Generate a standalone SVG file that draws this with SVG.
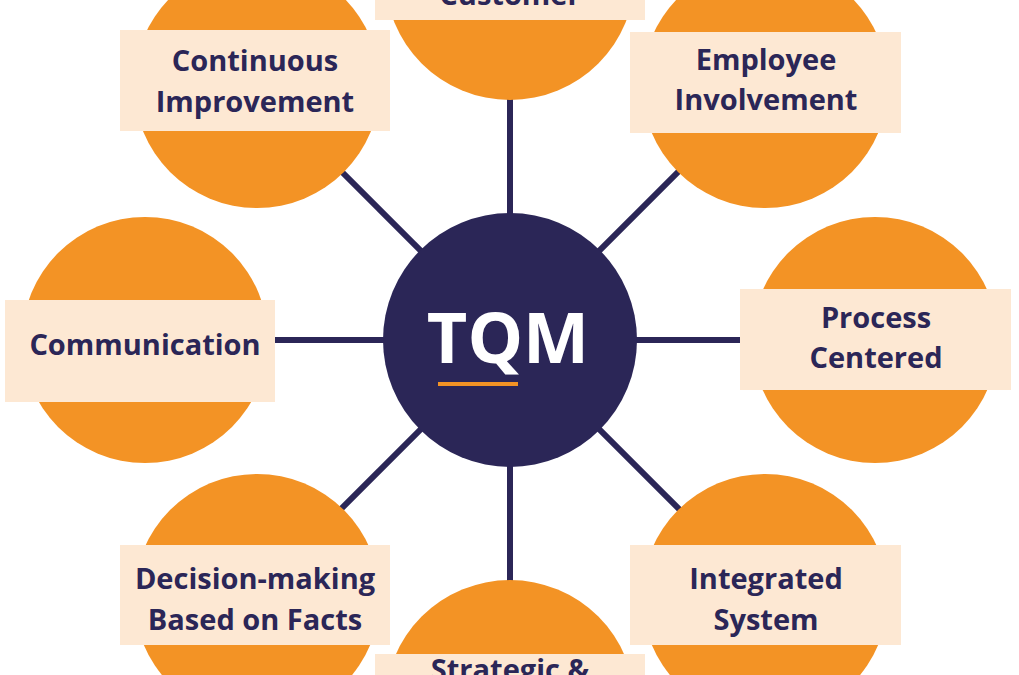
<svg xmlns="http://www.w3.org/2000/svg" width="1019" height="675" viewBox="0 0 1019 675">
<style>
.c{fill:#f39325}
.r{fill:#fde8d3}
.t{font-family:"Open Sans","Liberation Sans",sans-serif;font-weight:bold;font-size:29px;fill:#2b2657;text-anchor:middle}
.l{stroke:#2b2657;stroke-width:6}
</style>
<rect width="1019" height="675" fill="#fff"/>
<g id="connectors">
<line class="l" x1="510" y1="340" x2="510" y2="0"/>
<line class="l" x1="510" y1="340" x2="510" y2="675"/>
<line class="l" x1="510" y1="340" x2="145" y2="340"/>
<line class="l" x1="510" y1="340" x2="875" y2="340"/>
<line class="l" x1="510" y1="340" x2="257" y2="87"/>
<line class="l" x1="510" y1="340" x2="763" y2="87"/>
<line class="l" x1="510" y1="340" x2="257" y2="593"/>
<line class="l" x1="510" y1="340" x2="763" y2="593"/>
</g>
<g id="customer"><circle class="c" cx="510" cy="-25" r="125"/><rect class="r" x="375" y="-30" width="270" height="50"/><text class="t" x="510" y="5">Customer</text></g>
<g id="employee"><circle class="c" cx="765" cy="85" r="123"/><rect class="r" x="630" y="32" width="271" height="101"/><text class="t" x="766" y="70">Employee</text><text class="t" x="766" y="110">Involvement</text></g>
<g id="process"><circle class="c" cx="875" cy="340" r="123"/><rect class="r" x="740" y="289" width="271" height="101"/><text class="t" x="876" y="328">Process</text><text class="t" x="876" y="368">Centered</text></g>
<g id="integrated"><circle class="c" cx="765" cy="597" r="123"/><rect class="r" x="630" y="545" width="271" height="100"/><text class="t" x="766" y="589">Integrated</text><text class="t" x="766" y="630">System</text></g>
<g id="strategic"><circle class="c" cx="510" cy="705" r="125"/><rect class="r" x="375" y="654" width="270" height="50"/><text class="t" x="510" y="680">Strategic &amp;</text></g>
<g id="decision"><circle class="c" cx="257" cy="597" r="123"/><rect class="r" x="120" y="545" width="270" height="100"/><text class="t" x="255" y="589">Decision-making</text><text class="t" x="255" y="630">Based on Facts</text></g>
<g id="communication"><circle class="c" cx="145" cy="340" r="123"/><rect class="r" x="5" y="300" width="270" height="102"/><text class="t" x="145" y="355">Communication</text></g>
<g id="continuous"><circle class="c" cx="257" cy="85" r="123"/><rect class="r" x="120" y="30" width="270" height="101"/><text class="t" x="255" y="71">Continuous</text><text class="t" x="255" y="112">Improvement</text></g>
<g id="tqm"><circle cx="510" cy="340" r="127" fill="#2b2657"/><text x="508" y="363" font-family="Open Sans,Liberation Sans,sans-serif" font-weight="bold" font-size="70" fill="#fff" text-anchor="middle">TQM</text><rect x="438" y="382" width="80" height="4" fill="#f39325"/></g>
</svg>
